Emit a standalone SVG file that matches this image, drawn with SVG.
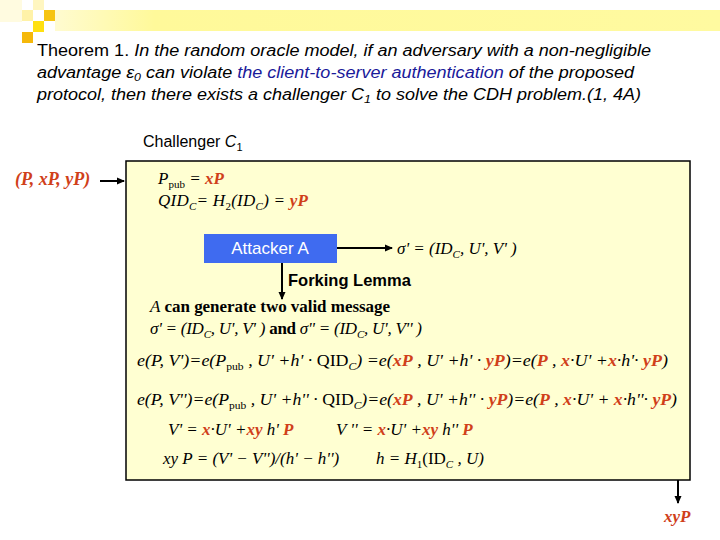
<svg xmlns="http://www.w3.org/2000/svg" width="720" height="540" viewBox="0 0 720 540">
<defs>
<linearGradient id="band" x1="0" y1="0" x2="1" y2="0">
<stop offset="0" stop-color="#FFFBD0"/>
<stop offset="0.15" stop-color="#FFF99A"/>
<stop offset="1" stop-color="#FFFAA0"/>
</linearGradient>
<marker id="ah" markerWidth="8" markerHeight="8" refX="7" refY="4" orient="auto" markerUnits="userSpaceOnUse">
<path d="M0,0.5 L8,4 L0,7.5 Z" fill="#000"/>
</marker>
<style>
.sans{font-family:"Liberation Sans",Arial,sans-serif;font-size:16px;fill:#000}
.serif{font-family:"Liberation Serif","Times New Roman",serif;font-size:17px;fill:#000}
.it{font-style:italic}
.bd{font-weight:bold}
.red{fill:#D0401A;font-weight:bold;font-style:italic}
.blue{fill:#1A1A9A}
.sub{font-size:11px}
.line{stroke:#000;stroke-width:2;fill:none}
</style>
</defs>
<rect width="720" height="540" fill="#fff"/>
<g id="decoration">
<rect x="55" y="10" width="665" height="21" fill="url(#band)"/>
<rect x="0" y="0" width="22" height="22" fill="#FFFBE0"/>
<rect x="33" y="0" width="11" height="10" fill="#FFF6C0"/>
<rect x="22" y="10" width="11" height="11" fill="#FFF2A8"/>
<rect x="44" y="10" width="11" height="11" fill="#F6C412"/>
<rect x="33" y="21" width="11" height="11" fill="#FFE010"/>
<rect x="22" y="32" width="11" height="11" fill="#F5B80A"/>
</g>
<g id="theorem">
<text class="sans" x="37" y="56" textLength="614" lengthAdjust="spacingAndGlyphs">Theorem 1. <tspan class="it">In the random oracle model, if an adversary with a non-negligible</tspan></text>
<text class="sans it" x="37" y="78" textLength="597" lengthAdjust="spacingAndGlyphs">advantage ε<tspan class="sub" dy="3">0</tspan><tspan dy="-3"> can violate </tspan><tspan class="blue">the client-to-server authentication</tspan> of the proposed</text>
<text class="sans it" x="37" y="100" textLength="604" lengthAdjust="spacingAndGlyphs">protocol, then there exists a challenger C<tspan class="sub" dy="3">1</tspan><tspan dy="-3"> to solve the CDH problem.(1, 4A)</tspan></text>
</g>
<g id="challenger">
<text class="sans" x="143" y="147">Challenger <tspan class="it">C</tspan><tspan class="sub" dy="4">1</tspan></text>
<rect x="126" y="161" width="564" height="319" fill="#FFFFD2" stroke="#000" stroke-width="1.5"/>
<text class="serif it" x="158" y="184">P<tspan class="sub" dy="4" font-style="normal">pub</tspan><tspan dy="-4"> = </tspan><tspan class="red">xP</tspan></text>
<text class="serif it" x="158" y="206" textLength="150" lengthAdjust="spacing">QID<tspan class="sub" dy="4">C</tspan><tspan dy="-4">= H</tspan><tspan class="sub" dy="4" font-style="normal">2</tspan><tspan dy="-4">(ID</tspan><tspan class="sub" dy="4">C</tspan><tspan dy="-4">) = </tspan><tspan class="red">yP</tspan></text>
</g>
<g id="input">
<text class="serif red" x="15" y="185" style="font-size:18px">(P, xP, yP)</text>
</g>
<g id="attacker">
<rect x="204" y="234" width="133" height="29" fill="#3F6BF0"/>
<text class="sans" x="270" y="254" text-anchor="middle" style="fill:#fff;font-size:17px">Attacker A</text>
</g>
<g id="sigma1">
<text class="serif it" x="397" y="254">σ' = (ID<tspan class="sub" dy="4">C</tspan><tspan dy="-4">, U', V' )</tspan></text>
</g>
<g id="forking">
<text class="sans" x="288" y="286" style="font-weight:bold;font-size:16.5px">Forking Lemma</text>
</g>
<g id="result">
<text class="serif" x="150" y="312" textLength="240" lengthAdjust="spacing"><tspan class="it">A</tspan><tspan class="bd"> can generate two valid message</tspan></text>
<text class="serif" x="150" y="334" textLength="272" lengthAdjust="spacing"><tspan class="it">σ' = (ID</tspan><tspan class="sub it" dy="4">C</tspan><tspan class="it" dy="-4">, U', V' )</tspan><tspan class="bd"> and </tspan><tspan class="it">σ'' = (ID</tspan><tspan class="sub it" dy="4">C</tspan><tspan class="it" dy="-4">, U', V'' )</tspan></text>
<text class="serif it" x="137" y="366" textLength="531" lengthAdjust="spacingAndGlyphs">e(P, V')=e(P<tspan class="sub" dy="4" font-style="normal">pub</tspan><tspan dy="-4"> , U' +h' · </tspan><tspan font-style="normal">QID</tspan><tspan class="sub" dy="4">C</tspan><tspan dy="-4">) =e(</tspan><tspan class="red">xP</tspan> , U' +h' · <tspan class="red">yP</tspan>)=e(<tspan class="red">P</tspan> , <tspan class="red">x</tspan>·U' +<tspan class="red">x</tspan>·h'· <tspan class="red">yP</tspan>)</text>
<text class="serif it" x="137" y="405" textLength="540" lengthAdjust="spacingAndGlyphs">e(P, V'')=e(P<tspan class="sub" dy="4" font-style="normal">pub</tspan><tspan dy="-4"> , U' +h'' · </tspan><tspan font-style="normal">QID</tspan><tspan class="sub" dy="4">C</tspan><tspan dy="-4">)=e(</tspan><tspan class="red">xP</tspan> , U' +h'' · <tspan class="red">yP</tspan>)=e(<tspan class="red">P</tspan> , <tspan class="red">x</tspan>·U' + <tspan class="red">x</tspan>·h''· <tspan class="red">yP</tspan>)</text>
<text class="serif it" x="168" y="435">V' = <tspan class="red">x</tspan>·U' +<tspan class="red">xy</tspan> h' <tspan class="red">P</tspan></text>
<text class="serif it" x="336" y="435">V '' = <tspan class="red">x</tspan>·U' +<tspan class="red">xy</tspan> h'' <tspan class="red">P</tspan></text>
<text class="serif it" x="163" y="464">xy P = (V' − V'')/(h' − h'')</text>
<text class="serif it" x="376" y="464">h = H<tspan class="sub" dy="4" font-style="normal">1</tspan><tspan dy="-4" font-style="normal">(ID</tspan><tspan class="sub" dy="4">C</tspan><tspan dy="-4"> , U)</tspan></text>
</g>
<g id="output">
<text class="serif red" x="664" y="522">xyP</text>
</g>
<g id="connectors">
<line class="line" x1="100" y1="181" x2="124" y2="181" marker-end="url(#ah)"/>
<line class="line" x1="337" y1="248" x2="392" y2="248" marker-end="url(#ah)"/>
<line class="line" x1="282" y1="263" x2="282" y2="299" marker-end="url(#ah)"/>
<line class="line" x1="678" y1="480" x2="678" y2="503" marker-end="url(#ah)"/>
</g>
</svg>
